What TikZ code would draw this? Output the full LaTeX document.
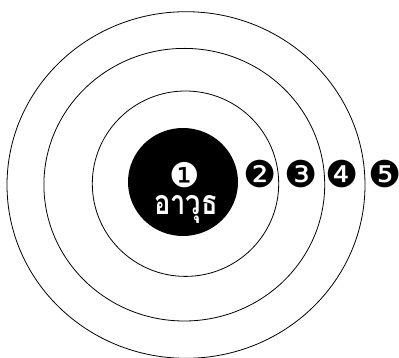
\documentclass[tikz,border=0pt]{standalone}
\usepackage{fontspec}
\newfontfamily\thaifont[Script=Thai]{Loma}
\newfontfamily\dingfont{DejaVu Sans}
\tikzset{ring/.style={draw=black,line width=0.8pt},
  num/.style={font=\dingfont\fontsize{37}{37}\selectfont,inner sep=0pt}}
\begin{document}
\begin{tikzpicture}[x=1pt,y=-1pt]
\useasboundingbox (0,0) rectangle (399,358);
\draw[ring] (186,185) ellipse [x radius=179, y radius=173.3];
\draw[ring] (184.3,184.7) ellipse [x radius=140.4, y radius=136.3];
\draw[ring] (185.5,183.7) ellipse [x radius=93.2, y radius=92.7];
\fill[black] (183,182) ellipse [x radius=55, y radius=54];
\node[num,text=white,font=\dingfont\fontsize{34}{34}\selectfont] (n1) at (185,175.5) {❶};
\node[text=white,font=\thaifont\bfseries\fontsize{34}{34}\selectfont,inner sep=0pt,anchor=base] (t) at (186,215) {\scalebox{0.8}[1]{อาวุธ}};
\node[num] (n2) at (260,174.5) {❷};
\node[num] (n3) at (301,174.5) {❸};
\node[num] (n4) at (342,174.5) {❹};
\node[num] (n5) at (385,174.5) {❺};
\end{tikzpicture}
\end{document}
